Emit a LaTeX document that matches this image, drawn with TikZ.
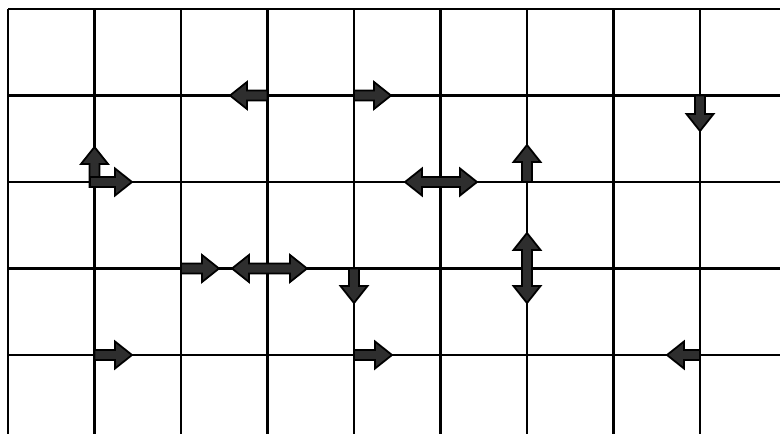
\documentclass[tikz,border=0pt]{standalone}
\usetikzlibrary{calc}
\tikzset{
  gridline/.style={line width=2.2pt, black},
  blockarrow/.style={fill=black!82, draw=black, line width=1.8pt, line join=miter}
}
\newcommand\sw{5pt}
\newcommand\hw{13.5pt}
\newcommand\hl{17pt}
% single block arrow: tail #1, tip #2
\newcommand\blkarrow[2]{%
  \coordinate (H) at ($(#2)!\hl!(#1)$);
  \filldraw[blockarrow] ($(#1)!\sw!90:(#2)$) -- ($(H)!\sw!90:(#2)$) -- ($(H)!\hw!90:(#2)$) -- (#2)
    -- ($(H)!\hw!-90:(#2)$) -- ($(H)!\sw!-90:(#2)$) -- ($(#1)!\sw!-90:(#2)$) -- cycle;
}
% double block arrow between #1 and #2
\newcommand\dblarrow[2]{%
  \coordinate (H1) at ($(#2)!\hl!(#1)$);
  \coordinate (H2) at ($(#1)!\hl!(#2)$);
  \filldraw[blockarrow] ($(H2)!\sw!90:(#2)$) -- ($(H1)!\sw!90:(#2)$) -- ($(H1)!\hw!90:(#2)$) -- (#2)
    -- ($(H1)!\hw!-90:(#2)$) -- ($(H1)!\sw!-90:(#2)$) -- ($(H2)!\sw!-90:(#2)$)
    -- ($(H2)!\hw!-90:(#2)$) -- (#1) -- ($(H2)!\hw!90:(#2)$) -- cycle;
}
\begin{document}
\begin{tikzpicture}[x=1pt,y=-1pt]
  \useasboundingbox (0,0) rectangle (780,434);
  % grid
  \foreach \i in {0,...,8} {
    \draw[gridline] ({8+86.5*\i},9) -- ({8+86.5*\i},434);
  }
  \foreach \j in {0,...,4} {
    \draw[gridline] (8,{9+86.5*\j}) -- (780,{9+86.5*\j});
  }
  % arrow end points
  \coordinate (a1t) at (267.5,95.5); \coordinate (a1h) at (230,95.5);
  \coordinate (a2t) at (354,95.5);   \coordinate (a2h) at (391,95.5);
  \coordinate (a3t) at (94.5,187);   \coordinate (a3h) at (94.5,147);
  \coordinate (a4t) at (90,182);     \coordinate (a4h) at (132,182);
  \coordinate (d1a) at (405,182);    \coordinate (d1b) at (477,182);
  \coordinate (a5t) at (527,182);    \coordinate (a5h) at (527,145);
  \coordinate (a6t) at (700,95.5);   \coordinate (a6h) at (700,131);
  \coordinate (a7t) at (181,268.5);  \coordinate (a7h) at (219,268.5);
  \coordinate (d2a) at (232,268.5);  \coordinate (d2b) at (307,268.5);
  \coordinate (a8t) at (354,268.5);  \coordinate (a8h) at (354,303);
  \coordinate (d3a) at (527,233);    \coordinate (d3b) at (527,303);
  \coordinate (a9t) at (94.5,355);   \coordinate (a9h) at (132,355);
  \coordinate (a10t) at (354,355);   \coordinate (a10h) at (392,355);
  \coordinate (a11t) at (700,355);   \coordinate (a11h) at (667,355);
  % arrows
  \blkarrow{a1t}{a1h}
  \blkarrow{a2t}{a2h}
  \blkarrow{a3t}{a3h}
  \blkarrow{a4t}{a4h}
  \dblarrow{d1a}{d1b}
  \blkarrow{a5t}{a5h}
  \blkarrow{a6t}{a6h}
  \blkarrow{a7t}{a7h}
  \dblarrow{d2a}{d2b}
  \blkarrow{a8t}{a8h}
  \dblarrow{d3a}{d3b}
  \blkarrow{a9t}{a9h}
  \blkarrow{a10t}{a10h}
  \blkarrow{a11t}{a11h}
\end{tikzpicture}
\end{document}
